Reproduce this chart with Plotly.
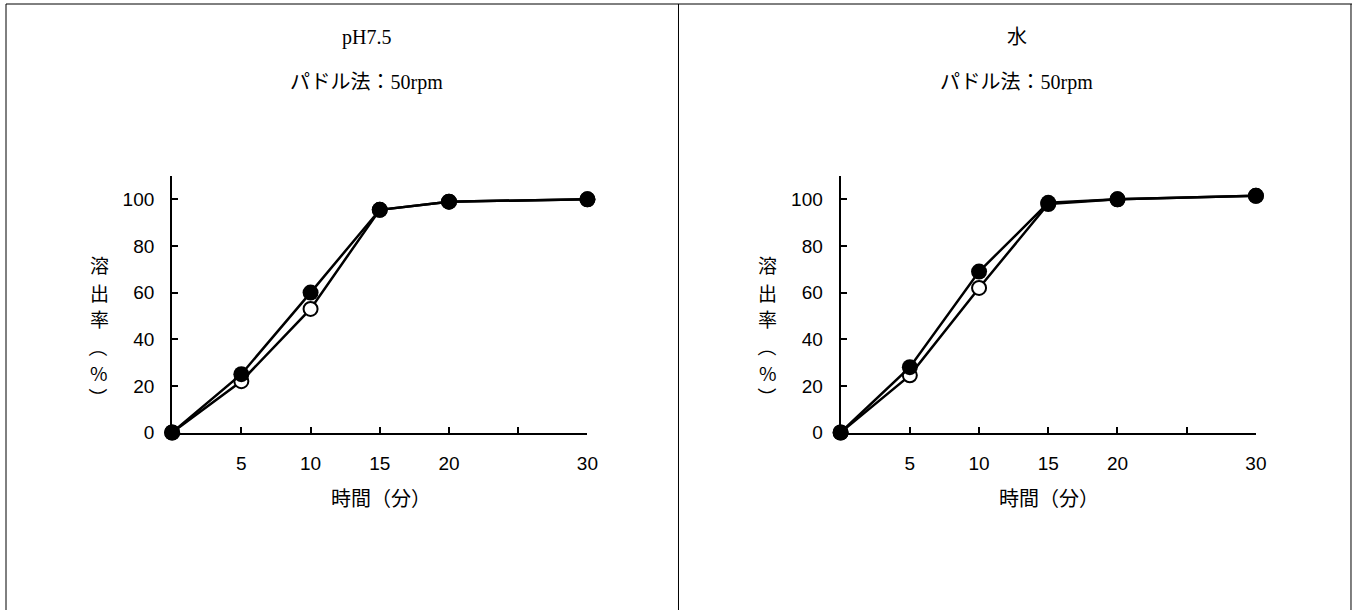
import plotly.graph_objects as go

# ---- data ----
time_min = [0, 5, 10, 15, 20, 30]
ph75_filled = [0, 25, 60, 95.5, 99, 100]
ph75_open = [0, 22, 53, 95.5, 99, 100]
water_filled = [0, 28, 69, 98.5, 100, 101.5]
water_open = [0, 24.5, 62, 98, 100, 101.5]

x_tickvals = [0, 5, 10, 15, 20, 25, 30]
x_ticktext = ["", "5", "10", "15", "20", "", "30"]
y_tickvals = [0, 20, 40, 60, 80, 100]

panel_titles = ["pH7.5", "水"]
subtitle = "パドル法：50rpm"
y_title_chars = ["溶", "出", "率", "（", "%", "）"]
x_title = "時間（分）"

# reference pixel frame used for placement
W, H = 1357, 610
# rendered figure size
FIG_W, FIG_H = 1369, 621
CJK = "Noto Sans CJK JP"
SERIF = "Liberation Serif, Noto Sans CJK JP"
SANS = "Liberation Sans, Arial, sans-serif"

fig = go.Figure()

panels = [
    (ph75_open, ph75_filled, "x", "y"),
    (water_open, water_filled, "x2", "y2"),
]
for open_vals, filled_vals, xa, ya in panels:
    fig.add_trace(go.Scatter(
        x=time_min, y=open_vals, xaxis=xa, yaxis=ya, mode="lines+markers",
        line=dict(color="black", width=2.5),
        marker=dict(symbol="circle", size=14, color="white",
                    line=dict(color="black", width=2)),
        cliponaxis=False, showlegend=False))
    fig.add_trace(go.Scatter(
        x=time_min, y=filled_vals, xaxis=xa, yaxis=ya, mode="lines+markers",
        line=dict(color="black", width=2.5),
        marker=dict(symbol="circle", size=16, color="black",
                    line=dict(color="black", width=0)),
        cliponaxis=False, showlegend=False))

def px_x(p):
    return p / W

def px_y(p):
    return 1 - p / H

xdom1 = [px_x(172), px_x(587)]
xdom2 = [px_x(840), px_x(1255)]
ydom = [px_y(432.5), px_y(176)]

axis_common_x = dict(
    range=[0, 30], tickvals=x_tickvals, ticktext=x_ticktext,
    showline=True, linecolor="black", linewidth=2,
    ticks="inside", ticklen=6, tickwidth=2, tickcolor="black",
    showgrid=False, zeroline=False, fixedrange=True,
    tickfont=dict(family=SANS, size=19, color="black"),
    ticklabelstandoff=13,
)
axis_common_y = dict(
    range=[0, 110], tickvals=y_tickvals,
    showline=True, linecolor="black", linewidth=2,
    ticks="inside", ticklen=6, tickwidth=2, tickcolor="black",
    showgrid=False, zeroline=False, fixedrange=True,
    tickfont=dict(family=SANS, size=19, color="black"),
    ticklabelstandoff=12,
)

fig.update_layout(
    width=FIG_W, height=FIG_H, autosize=False,
    margin=dict(l=0, r=0, t=0, b=0),
    paper_bgcolor="white", plot_bgcolor="white",
    xaxis=dict(domain=xdom1, anchor="y", **axis_common_x),
    yaxis=dict(domain=ydom, anchor="x", **axis_common_y),
    xaxis2=dict(domain=xdom2, anchor="y2", **axis_common_x),
    yaxis2=dict(domain=ydom, anchor="x2", **axis_common_y),
)

# frame lines
line_style = dict(color="black", width=1)
fig.add_shape(type="line", xref="paper", yref="paper",
              x0=px_x(6), x1=px_x(1351), y0=px_y(4), y1=px_y(4), line=line_style)
for xp in [6, 678, 1350]:
    fig.add_shape(type="line", xref="paper", yref="paper",
                  x0=px_x(xp), x1=px_x(xp), y0=px_y(4), y1=0, line=line_style)

annos = []
title_centers = [366, 1016]
ytitle_x = [99, 767]
xtitle_x = [381, 1048]
ytitle_y = [265, 292, 318, 347, 372, 397]
for i in range(2):
    annos.append(dict(x=px_x(title_centers[i]), y=px_y(37), xref="paper", yref="paper",
                      text=panel_titles[i], showarrow=False, xanchor="center", yanchor="middle",
                      font=dict(family=SERIF, size=20, color="black")))
    annos.append(dict(x=px_x(title_centers[i]), y=px_y(82), xref="paper", yref="paper",
                      text=subtitle, showarrow=False, xanchor="center", yanchor="middle",
                      font=dict(family=SERIF, size=20, color="black")))
    for ch, yp in zip(y_title_chars, ytitle_y):
        rot = 90 if ch in ("（", "）") else 0
        annos.append(dict(x=px_x(ytitle_x[i]), y=px_y(yp), xref="paper", yref="paper",
                          text=ch, showarrow=False, xanchor="center", yanchor="middle",
                          textangle=rot,
                          font=dict(family=CJK, size=19, color="black")))
    annos.append(dict(x=px_x(xtitle_x[i]), y=px_y(497), xref="paper", yref="paper",
                      text=x_title, showarrow=False, xanchor="center", yanchor="middle",
                      font=dict(family=CJK, size=20, color="black")))
fig.update_layout(annotations=annos)

fig.write_html(
    "out.html",
    config={"responsive": False, "displayModeBar": False},
    post_script=(
        "document.body.style.margin='0';"
        "document.documentElement.style.overflow='hidden';"
        "document.body.style.overflow='hidden';"
    ),
)
